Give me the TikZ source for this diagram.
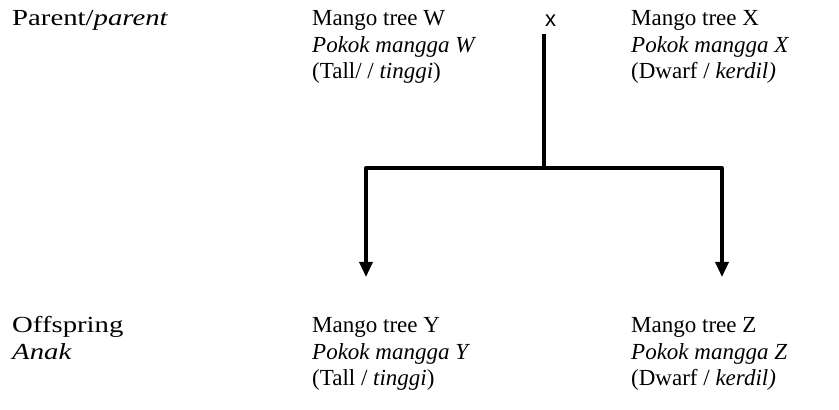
\documentclass[tikz,border=0pt]{standalone}
\usepackage{fontspec}
\setmainfont{Liberation Serif}
\newfontfamily\xfont{Liberation Sans}
\newfontfamily\wideserif[FakeStretch=1.25]{Liberation Serif}
\usetikzlibrary{arrows.meta}
\newcommand\stacklines[1]{\begin{tabular}[t]{@{}l@{}}#1\end{tabular}}
\begin{document}
\begin{tikzpicture}[x=1pt,y=1pt,
  txt/.style={anchor=base west,inner sep=0pt,font=\fontsize{23}{26.5}\selectfont},
  label/.style={txt,font=\wideserif\fontsize{23}{26.5}\selectfont},
  link/.style={line width=3.3pt,line join=round},
  arr/.style={link,-{Triangle[width=13pt,length=15pt]}}]
\fill[white] (0,0) rectangle (839,410);
\useasboundingbox (0,0) rectangle (839,410);
% parents row
\node[label] (parent) at (12,384) {Parent/\textit{parent}};
\node[txt] (w) at (312,384) {\stacklines{Mango tree W\\\textit{Pokok mangga W}\\(Tall/ / \textit{tinggi})}};
\node[txt,font=\xfont\fontsize{22}{24}\selectfont] (cross) at (545,383) {x};
\node[txt] (xt) at (631,384) {\stacklines{Mango tree X\\\textit{Pokok mangga X}\\(Dwarf / \textit{kerdil)}}};
% offspring row
\node[label] (offspring) at (12,77) {\stacklines{Offspring\\\textit{Anak}}};
\node[txt] (y) at (312,77) {\stacklines{Mango tree Y\\\textit{Pokok mangga Y}\\(Tall / \textit{tinggi})}};
\node[txt] (z) at (631,77) {\stacklines{Mango tree Z\\\textit{Pokok mangga Z}\\(Dwarf / \textit{kerdil)}}};
% connectors
\coordinate (top) at (544,376);
\coordinate (j) at (544,242);
\coordinate (ytip) at (366,133);
\coordinate (ztip) at (722,133);
\draw[link] (top) -- (j);
\draw[arr] (j) -| (ytip);
\draw[arr] (j) -| (ztip);
\end{tikzpicture}
\end{document}
